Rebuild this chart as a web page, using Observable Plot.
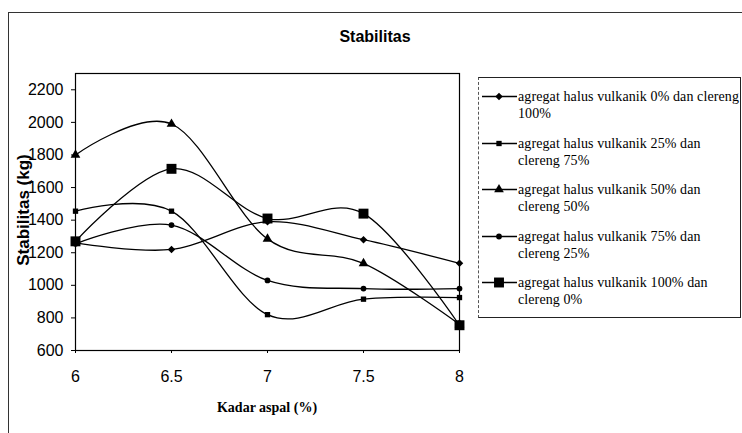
<!DOCTYPE html>
<html>
<head>
<meta charset="utf-8">
<script src="https://cdn.jsdelivr.net/npm/d3@7"></script>
<script src="https://cdn.jsdelivr.net/npm/@observablehq/plot@0.6"></script>
<style>
  html, body { margin: 0; padding: 0; background: #fff; }
  #wrap { position: relative; width: 742px; height: 433px; overflow: hidden; background: #fff; }
  #frame { position: absolute; left: 8px; top: 12px; width: 760px; height: 440px;
           border-left: 1.5px solid #333; border-top: 1.5px solid #333; }
  #chart { position: absolute; left: 0; top: 0; }
  .title { position: absolute; left: 8px; width: 734px; top: 28px; text-align: center;
           font: bold 16px "Liberation Sans", Arial, sans-serif; color: #000; }
  .ylabel { position: absolute; left: 24px; top: 210px; transform: translate(-50%, -50%) rotate(-90deg);
            white-space: nowrap; font: bold 17px "Liberation Sans", Arial, sans-serif; color: #000; }
  .xlabel { position: absolute; left: 267px; top: 408px; transform: translate(-50%, -50%);
            white-space: nowrap; font: bold 14px "Liberation Serif", "Times New Roman", serif; color: #000; }
  #legend { position: absolute; left: 478px; top: 77px; width: 263px; height: 241px;
            border: 1px solid #222; border-left: 1px dashed #555; box-sizing: border-box; }
  .entry { position: absolute; left: 0; width: 263px; }
  .entry svg { position: absolute; left: 2px; top: 0; }
  .entry .txt { position: absolute; left: 39px; top: 0; font: 14px "Liberation Serif", "Times New Roman", serif;
                letter-spacing: 0.1px; line-height: 17px; color: #000; white-space: nowrap; }
</style>
</head>
<body>
<div id="wrap">
  <div id="frame"></div>
  <div id="chart"></div>
  <div class="title">Stabilitas</div>
  <div class="ylabel">Stabilitas (kg)</div>
  <div class="xlabel">Kadar aspal (%)</div>
  <div id="legend"></div>
</div>
<script>
// Asphalt content (%)
const kadarAspal = [6, 6.5, 7, 7.5, 8];

// Marshall stability (kg) for each aggregate mix
const stabVulkanik0 = [1260, 1220, 1390, 1280, 1135];
const stabVulkanik25 = [1455, 1455, 820, 915, 925];
const stabVulkanik50 = [1800, 1990, 1285, 1135, 760];
const stabVulkanik75 = [1255, 1370, 1030, 980, 980];
const stabVulkanik100 = [1270, 1715, 1410, 1440, 755];

const seriesNames = [
  "agregat halus vulkanik 0% dan clereng 100%",
  "agregat halus vulkanik 25% dan clereng 75%",
  "agregat halus vulkanik 50% dan clereng 50%",
  "agregat halus vulkanik 75% dan clereng 25%",
  "agregat halus vulkanik 100% dan clereng 0%"
];
// legend line breaks (first line, second line)
const legendLines = [
  ["agregat halus vulkanik 0% dan clereng", "100%"],
  ["agregat halus vulkanik 25% dan", "clereng 75%"],
  ["agregat halus vulkanik 50% dan", "clereng 50%"],
  ["agregat halus vulkanik 75% dan", "clereng 25%"],
  ["agregat halus vulkanik 100% dan", "clereng 0%"]
];

const yTicks = [600, 800, 1000, 1200, 1400, 1600, 1800, 2000, 2200];

// rotated-square marker
const diamondSymbol = {
  draw(context, size) {
    const h = Math.sqrt(size / Math.PI) * 1.05;
    context.moveTo(0, -h);
    context.lineTo(h, 0);
    context.lineTo(0, h);
    context.lineTo(-h, 0);
    context.closePath();
  }
};

const seriesValues = [stabVulkanik0, stabVulkanik25, stabVulkanik50, stabVulkanik75, stabVulkanik100];
const markers = [
  {symbol: diamondSymbol, r: 3.6},
  {symbol: "square", r: 3.0},
  {symbol: "triangle", r: 3.6},
  {symbol: "circle", r: 2.9},
  {symbol: "square", r: 5.6}
];

const rows = seriesValues.map((vals, i) =>
  kadarAspal.map((x, j) => ({series: seriesNames[i], x, y: vals[j]}))
);

const marks = [Plot.frame({stroke: "#000", strokeWidth: 1.2})];
rows.forEach((data, i) => {
  marks.push(Plot.line(data, {x: "x", y: "y", curve: "cardinal", tension: 0,
                              stroke: "#000", strokeWidth: 1.3}));
});
rows.forEach((data, i) => {
  marks.push(Plot.dot(data, {x: "x", y: "y", symbol: () => markers[i].symbol,
                             r: markers[i].r, fill: "#000", stroke: "none"}));
});

const chart = Plot.plot({
  width: 742,
  height: 433,
  marginLeft: 75,
  marginTop: 73,
  marginRight: 283,
  marginBottom: 83,
  style: {fontFamily: "'Liberation Sans', Arial, sans-serif", fontSize: "16px", color: "#000", background: "transparent"},
  x: {domain: [6, 8], ticks: kadarAspal, tickFormat: d => String(d), tickSize: 3, tickPadding: 17, label: null},
  y: {domain: [600, 2300], ticks: yTicks, tickFormat: d => String(d), tickSize: 4, tickPadding: 8, label: null},
  symbol: {type: "identity"},
  marks
});
document.getElementById("chart").appendChild(chart);

// legend
const legend = d3.select("#legend");
legendLines.forEach((lines, i) => {
  const top = 10 + i * 46.5;
  const entry = legend.append("div").attr("class", "entry").style("top", top + "px");
  const svg = entry.append("svg").attr("width", 36).attr("height", 17);
  svg.append("line").attr("x1", 1).attr("x2", 36).attr("y1", 8.5).attr("y2", 8.5)
     .attr("stroke", "#000").attr("stroke-width", 1.3);
  const m = markers[i];
  const sym = typeof m.symbol === "string"
    ? {square: d3.symbolSquare, triangle: d3.symbolTriangle, circle: d3.symbolCircle}[m.symbol]
    : m.symbol;
  svg.append("path").attr("transform", "translate(18,8.5)")
     .attr("d", d3.symbol(sym, Math.PI * m.r * m.r)()).attr("fill", "#000");
  entry.append("div").attr("class", "txt").html(lines.join("<br>"));
});
</script>
</body>
</html>
